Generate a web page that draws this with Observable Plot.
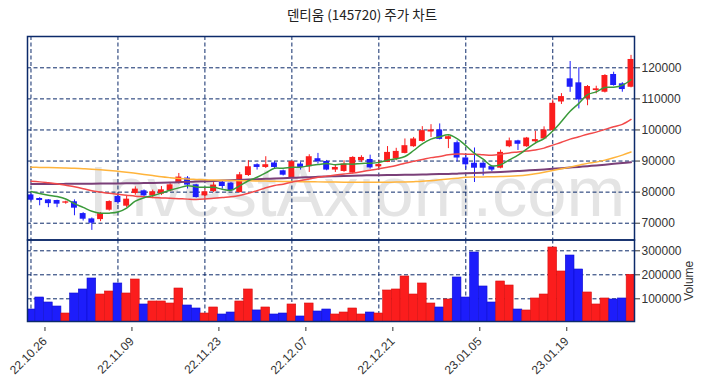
<!DOCTYPE html>
<html><head><meta charset="utf-8">
<script src="https://cdn.jsdelivr.net/npm/d3@7"></script>
<script src="https://cdn.jsdelivr.net/npm/@observablehq/plot@0.6"></script>
<style>
body{margin:0;background:#fff;}
#wrap{position:relative;width:708px;height:380px;overflow:hidden;}
#title{position:absolute;top:8px;left:0;width:724px;text-align:center;font-family:"Noto Sans CJK KR",sans-serif;font-size:13.5px;line-height:13.5px;color:#222;}
#price{position:absolute;left:0;top:0;}
#vol{position:absolute;left:0;top:239px;}
</style></head><body>
<div id="wrap"><div id="price"></div><div id="vol"></div><div id="title">덴티움 (145720) 주가 차트</div></div>
<script>
const dates = ["22.10.26","22.10.27","22.10.28","22.10.31","22.11.01","22.11.02","22.11.03","22.11.04","22.11.07","22.11.08",
"22.11.09","22.11.10","22.11.11","22.11.14","22.11.15","22.11.16","22.11.17","22.11.18","22.11.21","22.11.22",
"22.11.23","22.11.24","22.11.25","22.11.28","22.11.29","22.11.30","22.12.01","22.12.02","22.12.05","22.12.06",
"22.12.07","22.12.08","22.12.09","22.12.12","22.12.13","22.12.14","22.12.15","22.12.16","22.12.19","22.12.20",
"22.12.21","22.12.22","22.12.23","22.12.26","22.12.27","22.12.28","22.12.29","23.01.02","23.01.03","23.01.04",
"23.01.05","23.01.06","23.01.09","23.01.10","23.01.11","23.01.12","23.01.13","23.01.16","23.01.17","23.01.18",
"23.01.19","23.01.20","23.01.25","23.01.26","23.01.27","23.01.30","23.01.31","23.02.01","23.02.02","23.02.03"];
const open = [79100,77950,77500,77300,76450,76900,73100,71390,71160,74190,
78580,75480,79550,80420,78800,79350,80420,82900,84520,82350,
78800,80190,83100,82900,79870,85350,88820,87940,89380,86870,
84520,89030,88170,90750,89870,87100,86650,86130,90100,90500,
88150,89550,90650,92450,94610,96320,99350,100000,96970,95900,
91000,89300,89300,88200,87700,94600,96500,94600,96200,97100,
99780,109000,116450,115160,110000,112680,112140,117850,114840,113740];
const high = [79400,78200,77600,77400,77100,77500,73400,71700,73400,77200,
79500,78800,81700,80700,80650,81800,83100,86000,85000,82500,
80970,83100,83500,83100,86330,90100,89100,91390,89810,87100,
90100,89600,92030,92460,90200,88600,90100,91400,91700,91900,
90100,94660,94100,97100,97600,101060,101700,101940,98100,96500,
91700,94200,89500,88400,93500,97400,96700,97600,99600,101000,
109680,111700,122030,120000,114300,114070,117800,118580,115200,124000];
const low = [77100,75600,75000,75000,76100,72400,70700,67700,70500,73900,
76100,75000,79000,78300,77900,78900,80100,82600,81000,78100,
77740,79870,80970,80200,79700,85030,87100,87600,87420,85200,
84200,87100,86330,89030,86870,86330,86400,85800,89600,87400,
87740,89500,90100,92300,94400,96100,97600,96800,94000,89700,
87400,83100,85200,86600,87500,94300,93400,94400,95700,96900,
99500,108200,112100,106770,107800,111610,111900,114100,112140,113550];
const close = [77400,77300,76300,76130,76870,74840,71290,70000,73100,76970,
76640,77740,80970,78800,80100,80740,82350,84840,82260,78260,
80100,82260,81810,80420,85580,88160,87940,88820,87940,85450,
89810,87940,91390,89780,87100,87940,89030,91160,91160,87800,
88870,92780,93100,94940,97100,99780,100000,96970,97830,90970,
88800,87700,87700,87100,92800,96500,95400,97400,96900,100000,
108580,110740,113740,109680,113970,113230,117520,114300,113000,122680];
const volume = [55400,105400,84600,67900,38700,122100,138800,184600,117900,130400,
163800,122100,180400,76300,88800,88800,80400,142900,72100,59600,
38700,63800,34600,42900,88800,138800,51500,63800,34600,38700,
76300,26300,80400,47100,55400,34600,42900,59600,34600,42900,
38700,134600,138800,192900,117900,163800,80400,63800,97100,188800,
105400,292900,151300,84600,172100,155400,55400,51300,101300,117900,
313800,213800,280400,222100,126300,76300,101300,97100,101300,200000];
const ma5 = [80200,79550,79030,78580,77800,76290,75090,73830,73220,73240,
73600,74890,77080,78220,78850,79670,80590,81370,82060,81690,
81560,81540,80940,80570,82030,83650,84780,86180,87690,87660,
87990,87990,88510,88870,89200,88830,89050,89000,89240,89310,
89570,90300,90720,91450,93390,95540,97040,97820,98460,97200,
94960,92450,90600,88450,88820,90360,91900,93840,95800,97240,
99660,102720,105990,108550,111340,112270,113630,113740,114400,116150];
const ma20 = [83480,83300,83000,82680,82200,81710,81100,80420,80000,79610,
79300,79000,78700,78500,78300,78150,78000,77900,77750,77650,
77780,78030,78300,78520,78950,79620,80450,81390,82130,82560,
83220,83730,84250,84800,85150,85510,85840,86150,86580,87050,
87510,88030,88600,89300,89890,90480,91100,91500,92000,92270,
92220,92210,92030,91890,92180,92610,92920,93250,93540,94160,
95130,96030,97060,97820,98650,99310,100180,101040,101800,103390];
const ma60 = [88000,87950,87900,87850,87770,87680,87550,87400,87200,86950,
86710,86400,86050,85700,85320,84940,84650,84400,84200,84080,
83970,83900,83830,83760,83700,83650,83600,83550,83500,83460,
83420,83380,83340,83300,83260,83230,83200,83180,83170,83160,
83160,83180,83220,83280,83370,83480,83700,83950,84200,84500,
84770,84850,84900,84950,85020,85100,85250,85500,85900,86400,
86950,87500,88050,88650,89250,89650,90300,91050,91900,92900];
const ma120 = [82580,82600,82620,82640,82660,82680,82700,82720,82740,82760,
82790,82820,82850,82900,82960,83030,83110,83200,83300,83400,
83500,83610,83720,83830,83940,84050,84160,84270,84380,84490,
84600,84710,84820,84920,85020,85120,85210,85290,85360,85420,
85470,85510,85550,85590,85630,85680,85740,85800,85870,85950,
86040,86140,86250,86370,86500,86640,86790,86950,87120,87300,
87490,87690,87900,88120,88350,88590,88840,89100,89360,89600];
const dateTicks = ["22.10.26","22.11.09","22.11.23","22.12.07","22.12.21","23.01.05","23.01.19"];
const priceTicks = [70000,80000,90000,100000,110000,120000];
const volumeTicks = [100000,200000,300000];
const watermark = "InvestAxiom.com";

const UP = "#fb1d1d", DOWN = "#1d1dfb", UPEDGE = "#d80f0f", DOWNEDGE = "#0f0fd0";
const NAVY = "#0c2a6a";
const rows = dates.map((d, i) => ({i, date: d, open: open[i], high: high[i], low: low[i], close: close[i],
  volume: volume[i], ma5: ma5[i], ma20: ma20[i], ma60: ma60[i], ma120: ma120[i]}));
const col = d => d.close >= d.open ? UP : DOWN;
const edge = d => d.close >= d.open ? UPEDGE : DOWNEDGE;
const tickIdx = dateTicks.map(t => dates.indexOf(t));
const xDomain = [-0.4, 69.4];
const font = {fontFamily: "'Liberation Sans Narrow','Liberation Sans',Arial,sans-serif", fontSize: "12px", color: "#333", background: "transparent", overflow: "visible"};
const gridStyle = {stroke: NAVY, strokeOpacity: 1, strokeWidth: 1, strokeDasharray: "4,2.5"};

const price = Plot.plot({
  width: 708, height: 240,
  marginLeft: 27, marginRight: 74, marginTop: 36, marginBottom: 0.5,
  style: font,
  x: {type: "linear", domain: xDomain, axis: null},
  y: {domain: [64600, 130070], axis: null},
  marks: [
    Plot.text([watermark], {frameAnchor: "top-left", text: d => d, dx: 61, dy: 129, textAnchor: "start", lineAnchor: "top",
      fontSize: 70.5, fill: "#e4e4e4", fontFamily: "'Liberation Sans',Arial,sans-serif"}),
    Plot.gridX(tickIdx, gridStyle),
    Plot.gridY(priceTicks, gridStyle),
    Plot.ruleX(rows, {x: "i", y1: "low", y2: "high", stroke: col, strokeWidth: 1}),
    Plot.rect(rows, {x1: d => d.i - 0.34, x2: d => d.i + 0.34, y1: "open", y2: "close", fill: col}),
    Plot.line(rows, {x: "i", y: "ma120", stroke: "#7a3f78", strokeWidth: 2, curve: "catmull-rom"}),
    Plot.line(rows, {x: "i", y: "ma60", stroke: "#ffb43c", strokeWidth: 1.5, curve: "catmull-rom"}),
    Plot.line(rows, {x: "i", y: "ma20", stroke: "#f24a4a", strokeWidth: 1.5, curve: "catmull-rom"}),
    Plot.line(rows, {x: "i", y: "ma5", stroke: "#3a9a3a", strokeWidth: 1.5, curve: "catmull-rom"}),
    Plot.axisY(priceTicks, {anchor: "right", tickSize: 5, tickPadding: 2, tickFormat: d => String(d), label: null}),
    Plot.frame({stroke: NAVY, strokeWidth: 1.5})
  ]
});
document.getElementById("price").append(price);

const vol = Plot.plot({
  width: 708, height: 141,
  marginLeft: 27, marginRight: 74, marginTop: 0.5, marginBottom: 59,
  style: font,
  x: {type: "linear", domain: xDomain},
  y: {domain: [5400, 345000]},
  marks: [
    Plot.gridX(tickIdx, gridStyle),
    Plot.gridY(volumeTicks, gridStyle),
    Plot.rectY(rows, {x1: d => d.i - 0.5, x2: d => d.i + 0.5, y: "volume", fill: col, stroke: edge, strokeWidth: 0.6, clip: true}),
    Plot.axisY(volumeTicks, {anchor: "right", tickSize: 5, tickPadding: 2, tickFormat: d => String(d),
      label: "Volume", labelAnchor: "center", labelArrow: "none", labelOffset: 58}),
    Plot.axisX(tickIdx, {anchor: "bottom", tickSize: 4, tickRotate: -45, tickFormat: i => dates[i], label: null, dx: 14, dy: 6}),
    Plot.frame({stroke: NAVY, strokeWidth: 1.5})
  ]
});
document.getElementById("vol").append(vol);
</script>
</body></html>
